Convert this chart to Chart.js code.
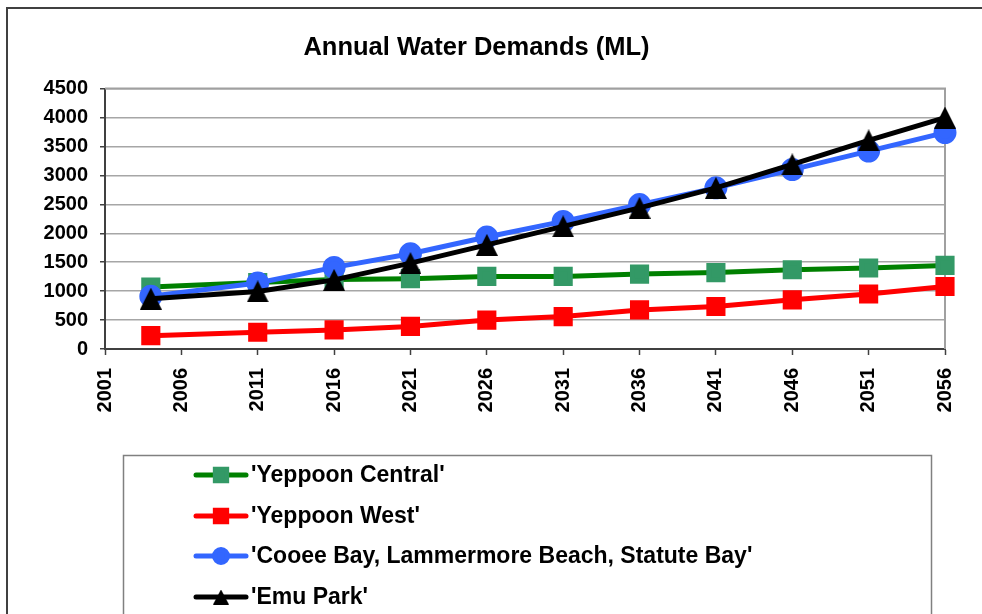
<!DOCTYPE html>
<html>
<head>
<meta charset="utf-8">
<script src="https://cdn.jsdelivr.net/npm/chart.js"></script>
<style>
  body { margin: 0; background: #fff; }
  #wrap { width: 982px; height: 614px; }
</style>
</head>
<body>
<div id="wrap"><canvas id="myChart" width="982" height="614"></canvas></div>
<script>
// years with markers
const years = [2004, 2011, 2016, 2021, 2026, 2031, 2036, 2041, 2046, 2051, 2056];
const yeppoonCentral = [1070, 1150, 1200, 1215, 1255, 1255, 1295, 1320, 1370, 1400, 1445];
const yeppoonWest = [230, 290, 330, 390, 500, 560, 675, 735, 850, 950, 1080];
const cooeeBay = [910, 1140, 1410, 1645, 1935, 2205, 2495, 2785, 3100, 3420, 3740];
const emuPark = [870, 995, 1195, 1485, 1800, 2120, 2440, 2785, 3190, 3605, 4000];

const seriesNames = ["'Yeppoon Central'", "'Yeppoon West'", "'Cooee Bay, Lammermore Beach, Statute Bay'", "'Emu Park'"];
const xTicks = [2001, 2006, 2011, 2016, 2021, 2026, 2031, 2036, 2041, 2046, 2051, 2056];
const yTicks = [0, 500, 1000, 1500, 2000, 2500, 3000, 3500, 4000, 4500];

function pts(vals) {
  return years.map((y, i) => ({ x: y, y: vals[i] }));
}

const FONT = "'Liberation Sans', Arial, sans-serif";

// excel style triangle, centred on its box
function triangle(w, h) {
  const c = document.createElement('canvas');
  c.width = w; c.height = h;
  const g = c.getContext('2d');
  g.fillStyle = '#000';
  g.beginPath();
  g.moveTo(w / 2, 0);
  g.lineTo(w, h);
  g.lineTo(0, h);
  g.closePath();
  g.fill();
  return c;
}
const triBig = triangle(22, 22);
const triSmall = triangle(16, 15);

// legend + frames drawn by hand
const framePlugin = {
  id: 'frame',
  beforeDatasetsDraw(chart) {
    const ctx = chart.ctx, a = chart.chartArea;
    ctx.save();
    ctx.strokeStyle = '#a0a0a0';
    ctx.lineWidth = 2;
    ctx.beginPath();
    ctx.moveTo(a.left, a.top);
    ctx.lineTo(a.right, a.top);
    ctx.lineTo(a.right, a.bottom);
    ctx.stroke();
    ctx.restore();
  },
  afterDraw(chart) {
    const ctx = chart.ctx;
    ctx.save();
    // outer chart border
    ctx.strokeStyle = '#404040';
    ctx.lineWidth = 2;
    ctx.beginPath();
    ctx.moveTo(7, 614);
    ctx.lineTo(7, 8);
    ctx.lineTo(982, 8);
    ctx.stroke();

    // legend box
    ctx.strokeStyle = '#808080';
    ctx.lineWidth = 1.5;
    ctx.strokeRect(123.5, 455.5, 808, 170);

    const itemY = [475, 516, 556, 597];
    const markR = [8, 8, 6.5, 9];
    chart.data.datasets.forEach((ds, i) => {
      const y = itemY[i];
      ctx.strokeStyle = ds.borderColor;
      ctx.lineWidth = 5;
      ctx.lineCap = 'round';
      ctx.beginPath();
      ctx.moveTo(196, y);
      ctx.lineTo(246, y);
      ctx.stroke();
      ctx.fillStyle = ds.pointBackgroundColor;
      ctx.strokeStyle = ds.pointBorderColor;
      const style = ds.pointStyle === triBig ? triSmall : ds.pointStyle;
      Chart.helpers.drawPoint(ctx, { pointStyle: style, radius: markR[i], rotation: 0, borderWidth: 1 }, 221, y);
      ctx.fillStyle = '#000';
      ctx.font = 'bold 23px ' + FONT;
      ctx.textBaseline = 'middle';
      ctx.textAlign = 'left';
      ctx.fillText(ds.label, 251, y + 1);
    });
    ctx.restore();
  }
};

const ctx = document.getElementById('myChart');
const chart = new Chart(ctx, {
  type: 'line',
  data: {
    datasets: [
      {
        label: seriesNames[0],
        data: pts(yeppoonCentral),
        borderColor: '#008000',
        borderWidth: 5,
        pointStyle: 'rect',
        pointRadius: 10,
        pointBackgroundColor: '#339966',
        pointBorderColor: '#339966',
        order: 4,
        clip: false
      },
      {
        label: seriesNames[1],
        data: pts(yeppoonWest),
        borderColor: '#ff0000',
        borderWidth: 5,
        pointStyle: 'rect',
        pointRadius: 10,
        pointBackgroundColor: '#ff0000',
        pointBorderColor: '#ff0000',
        order: 3,
        clip: false
      },
      {
        label: seriesNames[2],
        data: pts(cooeeBay),
        borderColor: '#3366ff',
        borderWidth: 5,
        pointStyle: 'circle',
        pointRadius: 9,
        pointBackgroundColor: '#3366ff',
        pointBorderColor: '#3366ff',
        order: 2,
        clip: false
      },
      {
        label: seriesNames[3],
        data: pts(emuPark),
        borderColor: '#000000',
        borderWidth: 5,
        pointStyle: triBig,
        pointRadius: 11,
        pointBackgroundColor: '#000000',
        pointBorderColor: '#000000',
        order: 1,
        clip: false
      }
    ]
  },
  options: {
    responsive: false,
    animation: false,
    layout: { padding: { left: 8, right: 37, top: 0, bottom: 199 } },
    plugins: {
      legend: { display: false },
      tooltip: { enabled: false },
      title: {
        display: true,
        text: 'Annual Water Demands (ML)',
        color: '#000',
        font: { family: FONT, size: 25.5, weight: 'bold', lineHeight: 1.2 },
        padding: { top: 33, bottom: 25 }
      }
    },
    scales: {
      x: {
        type: 'linear',
        min: 2001,
        max: 2056,
        afterBuildTicks: s => { s.ticks = xTicks.map(v => ({ value: v })); },
        afterFit: s => { s.height = 66; },
        ticks: {
          color: '#000',
          font: { family: FONT, size: 20, weight: 'bold' },
          minRotation: 90,
          maxRotation: 90,
          padding: 13,
          autoSkip: false,
          callback: v => String(v)
        },
        grid: { drawOnChartArea: false, tickLength: 6, tickColor: '#404040', tickWidth: 1.5 },
        border: { color: '#404040', width: 2 }
      },
      y: {
        min: 0,
        max: 4500,
        afterBuildTicks: s => { s.ticks = yTicks.map(v => ({ value: v })); },
        afterFit: s => { s.width = 97; },
        ticks: {
          color: '#000',
          font: { family: FONT, size: 20, weight: 'bold' },
          padding: 12,
          callback: v => String(v)
        },
        grid: { color: '#a6a6a6', lineWidth: 1.5, tickLength: 5, tickColor: '#404040' },
        border: { color: '#404040', width: 2 }
      }
    }
  },
  plugins: [framePlugin]
});
</script>
</body>
</html>
